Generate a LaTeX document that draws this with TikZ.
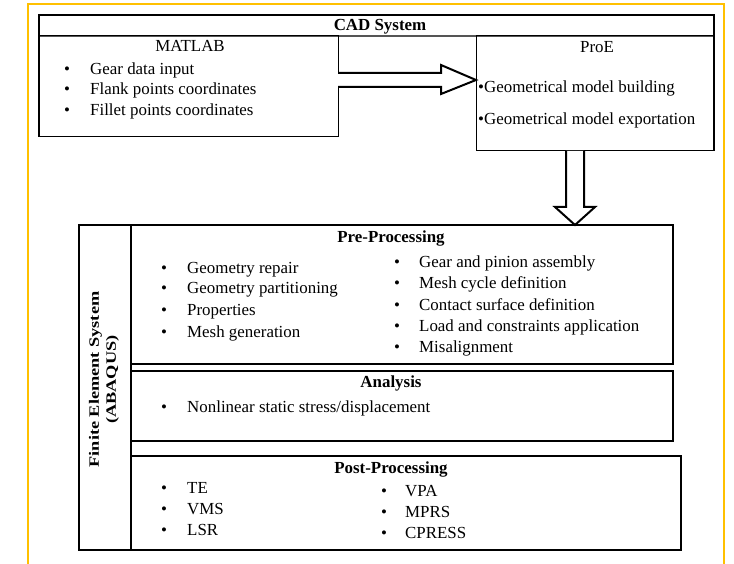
\documentclass[tikz,border=0pt]{standalone}
\usepackage{fontspec}
\setmainfont{Liberation Serif}
\usetikzlibrary{calc}
\definecolor{frameyellow}{HTML}{FFC000}
\definecolor{hdrgray}{HTML}{555555}
\tikzset{
  yframe/.style={draw=frameyellow, line width=1.6pt},
  thinbox/.style={draw, line width=1pt, inner sep=0pt, outer sep=0pt, anchor=north west},
  hdrbox/.style={draw=hdrgray, line width=1.3pt, inner sep=0pt, outer sep=0pt, anchor=north west},
  febox/.style={draw, line width=2.3pt, inner sep=0pt, outer sep=0pt, anchor=north west},
  outerline/.style={line width=2.6pt, line join=miter},
  openarrow/.style={draw, line width=2pt, fill=white, line join=miter},
  txt/.style={anchor=base west, inner sep=0pt, font=\fontsize{16.9}{19}\selectfont},
  ctxt/.style={anchor=base, inner sep=0pt, font=\fontsize{16.9}{19}\selectfont},
  htxt/.style={anchor=base, inner sep=0pt, font=\bfseries\fontsize{16.9}{19}\selectfont},
}
\begin{document}
\begin{tikzpicture}[x=1pt,y=-1pt]
\useasboundingbox (0,0) rectangle (734,564);
% yellow frame
\draw[yframe] (28,566) -- (28,4) -- (724,4) -- (724,566);

% CAD system
\node[hdrbox, minimum width=675pt, minimum height=21pt] (cad) at (39,15) {};
\node[htxt] (cadt) at (380,31) {CAD System};
\node[thinbox, minimum width=299pt, minimum height=101pt] (matlab) at (39,36) {};
\node[thinbox, minimum width=238pt, minimum height=115pt] (proe) at (476,36) {};
\draw[outerline] (matlab.south west) -- (cad.north west) -- (cad.north east) -- (proe.south east);

\node[ctxt] (matlabt) at (190,52) {MATLAB};
\node[txt] (b1) at (64,75) {•};
\node[txt] (m1) at (90,75) {Gear data input};
\node[txt] (b2) at (64,95) {•};
\node[txt] (m2) at (90,95) {Flank points coordinates};
\node[txt] (b3) at (64,116) {•};
\node[txt] (m3) at (90,116) {Fillet points coordinates};

\node[ctxt] (proet) at (597,53) {ProE};
\node[txt] (p1) at (478,93) {•Geometrical model building};
\node[txt] (p2) at (478,125) {•Geometrical model exportation};

% right arrow
\coordinate (y80) at (0,80);
\coordinate (r0) at (matlab.east |- y80);
\coordinate (r1) at (proe.west |- y80);
\draw[openarrow] ($(r0)+(0,-7)$) -- ($(r1)+(-35,-7)$) -- ($(r1)+(-35,-15)$) -- (r1)
  -- ($(r1)+(-35,14)$) -- ($(r1)+(-35,7)$) -- ($(r0)+(0,7)$);

% FE system boxes
\node[febox, minimum width=52pt, minimum height=325pt] (fecol) at (79,225) {};
\node[febox, minimum width=542pt, minimum height=139pt] (pre) at (131,225) {};
\node[febox, minimum width=542pt, minimum height=70pt] (ana) at (131,371) {};
\node[febox, minimum width=550pt, minimum height=94pt] (post) at (131,456) {};

\node[rotate=90, inner sep=0pt, font=\bfseries\fontsize{15}{18}\selectfont] (fet)
  at ($(fecol.center)+(-1,-8)$) {\scalebox{1.22}[0.95]{\begin{tabular}{@{}c@{}}Finite Element System\\(ABAQUS)\end{tabular}}};

% down arrow
\coordinate (x575) at (575,0);
\coordinate (d0) at (proe.south -| x575);
\coordinate (d1) at (pre.north -| x575);
\draw[openarrow] ($(d0)+(-9,0)$) -- ($(d1)+(-9,-18)$) -- ($(d1)+(-20,-18)$) -- (d1)
  -- ($(d1)+(20,-18)$) -- ($(d1)+(9,-18)$) -- ($(d0)+(9,0)$);

% Pre-Processing
\node[htxt] (pret) at (391,243) {Pre-Processing};
\foreach \n/\t/\y in {a/Geometry repair/273, b/Geometry partitioning/294, c/Properties/316, d/Mesh generation/337}{
  \node[txt] (pbl\n) at (161,\y) {•};
  \node[txt] (pl\n) at (187,\y) {\t};
}
\foreach \n/\t/\y in {a/Gear and pinion assembly/268, b/Mesh cycle definition/289, c/Contact surface definition/310, d/Load and constraints application/331, e/Misalignment/352}{
  \node[txt] (pbr\n) at (394,\y) {•};
  \node[txt] (pr\n) at (419,\y) {\t};
}

% Analysis
\node[htxt] (anat) at (391,387) {Analysis};
\node[txt] (abl) at (161,412) {•};
\node[txt] (al) at (187,412) {Nonlinear static stress/displacement};

% Post-Processing
\node[htxt] (postt) at (391,473) {Post-Processing};
\foreach \n/\t/\y in {a/TE/493, b/VMS/514, c/LSR/535}{
  \node[txt] (qbl\n) at (161,\y) {•};
  \node[txt] (ql\n) at (187,\y) {\t};
}
\foreach \n/\t/\y in {a/VPA/496, b/MPRS/517, c/CPRESS/538}{
  \node[txt] (qbr\n) at (381,\y) {•};
  \node[txt] (qr\n) at (405,\y) {\t};
}
\end{tikzpicture}
\end{document}
